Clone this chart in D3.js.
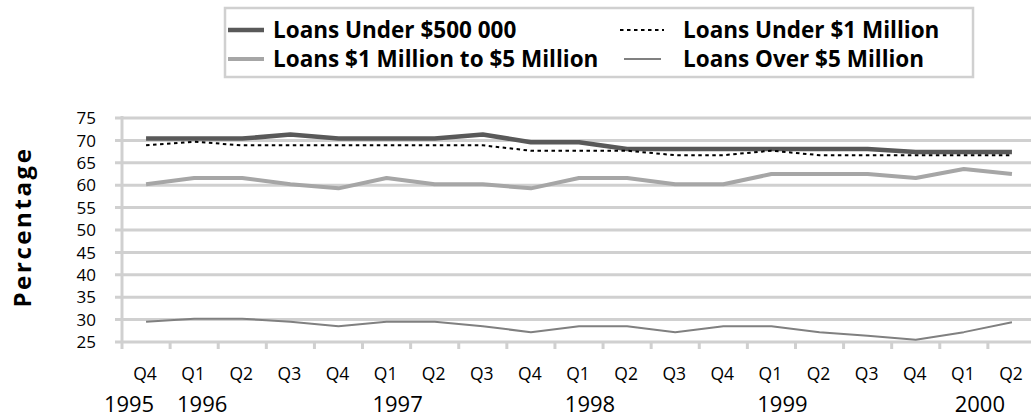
<!DOCTYPE html>
<html><head><meta charset="utf-8">
<script src="https://cdn.jsdelivr.net/npm/d3@7"></script>
<style>
html,body{margin:0;padding:0;background:#fff;}
svg{display:block;font-family:"Open Sans",sans-serif;}
</style></head>
<body>
<svg id="chart" width="1031" height="417"></svg>
<script>
const quarters = ["Q4","Q1","Q2","Q3","Q4","Q1","Q2","Q3","Q4","Q1","Q2","Q3","Q4","Q1","Q2","Q3","Q4","Q1","Q2"];
const yearLabels = ["1995","1996","1997","1998","1999","2000"];
const yearIndex = [0,1,5,9,13,17];
const yTicks = [25,30,35,40,45,50,55,60,65,70,75];
const seriesNames = ["Loans Under $500 000","Loans Under $1 Million","Loans $1 Million to $5 Million","Loans Over $5 Million"];
const under500k = [70.4,70.4,70.4,71.3,70.4,70.4,70.4,71.3,69.6,69.6,68.1,68.1,68.1,68.1,68.1,68.1,67.4,67.4,67.4];
const under1m   = [68.9,69.7,68.9,68.9,68.9,68.9,68.9,68.9,67.7,67.7,67.7,66.7,66.7,67.7,66.7,66.7,66.7,66.7,66.7];
const m1to5     = [60.2,61.6,61.6,60.2,59.3,61.6,60.2,60.2,59.3,61.6,61.6,60.2,60.2,62.5,62.5,62.5,61.6,63.6,62.5];
const over5m    = [29.5,30.2,30.2,29.5,28.5,29.5,29.5,28.5,27.2,28.5,28.5,27.2,28.5,28.5,27.2,26.4,25.5,27.2,29.4];

const styles = [
  {color:"#595959", width:4.5, dash:null},
  {color:"#000000", width:2, dash:"3.5,3.5"},
  {color:"#a6a6a6", width:4, dash:null},
  {color:"#808080", width:2, dash:null}
];
const seriesData = [under500k, under1m, m1to5, over5m];

const svg = d3.select("#chart");
const idx = d3.range(quarters.length);
const x = d3.scaleBand().domain(idx).range([122, 1036]);
const y = d3.scaleLinear().domain([25,75]).range([342,118]);
const cx = i => x(i) + x.bandwidth()/2;
const grid = "#d0d0d0";

// gridlines
svg.append("g").selectAll("line").data(yTicks).join("line")
  .attr("x1",115).attr("x2",1036)
  .attr("y1",d=>y(d)).attr("y2",d=>y(d))
  .attr("stroke",grid).attr("stroke-width",3);
// vertical axis line
svg.append("line").attr("x1",x(0)).attr("x2",x(0)).attr("y1",y(75)-2).attr("y2",y(25)+7)
  .attr("stroke",grid).attr("stroke-width",3);
// x tick marks
svg.append("g").selectAll("line").data(idx.slice(1)).join("line")
  .attr("x1",d=>x(d)).attr("x2",d=>x(d)).attr("y1",y(25)).attr("y2",y(25)+7)
  .attr("stroke",grid).attr("stroke-width",3);

// y labels
svg.append("g").selectAll("text").data(yTicks).join("text")
  .attr("x",96).attr("y",d=>y(d)).attr("dy","0.36em")
  .attr("text-anchor","end").attr("font-size",17).attr("fill","#000")
  .text(d=>d);

// quarter labels
svg.append("g").selectAll("text").data(quarters).join("text")
  .attr("x",(d,i)=>cx(i)-1).attr("y",374).attr("dy","0.36em")
  .attr("text-anchor","middle").attr("font-size",17.5).text(d=>d);

// year labels
const yearDx = [-17,8,11,11,11,16];
svg.append("g").selectAll("text").data(yearLabels).join("text")
  .attr("x",(d,i)=>cx(yearIndex[i])+yearDx[i]).attr("y",412)
  .attr("text-anchor","middle").attr("font-size",22).text(d=>d);

// y title
svg.append("text").attr("transform","translate(22,227) rotate(-90)")
  .attr("text-anchor","middle").attr("dy","0.36em")
  .attr("font-size",24).attr("font-weight","bold").attr("letter-spacing",2.6)
  .text("Percentage");

// lines
const line = d3.line().x((d,i)=>cx(i)).y(d=>y(d));
const order = [3,2,0,1];
order.forEach(k=>{
  svg.append("path").datum(seriesData[k])
    .attr("d",line).attr("fill","none")
    .attr("stroke",styles[k].color).attr("stroke-width",styles[k].width)
    .attr("stroke-dasharray",styles[k].dash)
    .attr("stroke-linejoin","round");
});

// legend
svg.append("rect").attr("x",225).attr("y",8).attr("width",748).attr("height",69)
  .attr("fill","#fff").attr("stroke",grid).attr("stroke-width",2.5);
const legPos = [[228,30],[620,30],[228,59],[624,59]];
const legLen = [36,44,36,37];
const legText = [45,63,45,59];
const lg = svg.append("g").selectAll("g").data(seriesNames).join("g")
  .attr("transform",(d,i)=>`translate(${legPos[i][0]},${legPos[i][1]})`);
lg.append("line").attr("x1",0).attr("x2",(d,i)=>legLen[i]).attr("y1",0).attr("y2",0)
  .attr("stroke",(d,i)=>styles[i].color).attr("stroke-width",(d,i)=>styles[i].width)
  .attr("stroke-dasharray",(d,i)=>styles[i].dash);
lg.append("text").attr("x",(d,i)=>legText[i]).attr("dy","0.36em")
  .attr("font-size",22.5).attr("font-weight","bold").text(d=>d);
</script>
</body></html>
